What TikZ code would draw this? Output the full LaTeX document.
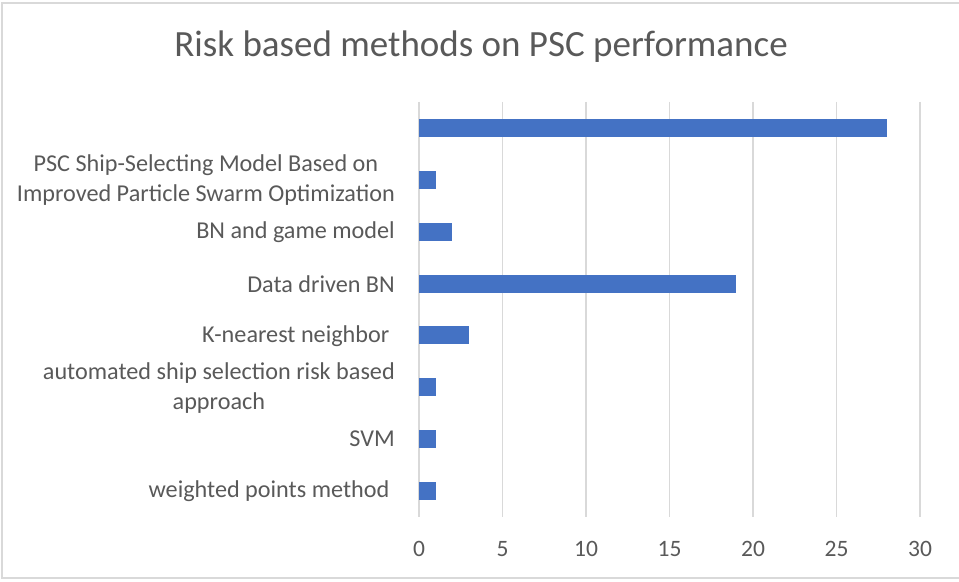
\documentclass[tikz,border=0pt]{standalone}
\usepackage{fontspec}
\setmainfont{Carlito}
\definecolor{barblue}{HTML}{4472C4}
\definecolor{txtgray}{HTML}{595959}
\definecolor{gridgray}{HTML}{D9D9D9}
\begin{document}
\begin{tikzpicture}[x=1bp,y=-1bp,
  frame/.style={draw=gridgray,line width=1.2bp},
  gridline/.style={draw=gridgray,line width=1.6bp},
  databar/.style={fill=barblue},
  catlabel/.style={anchor=east,align=center,text=txtgray,inner sep=0pt,
    font=\fontsize{24.2bp}{30bp}\selectfont},
  ticklabel/.style={text=txtgray,inner sep=0pt,font=\fontsize{23.5bp}{28bp}\selectfont},
  titlelabel/.style={text=txtgray,inner sep=0pt,font=\fontsize{37bp}{44bp}\selectfont}]
\useasboundingbox (0,0) rectangle (959,582);
% chart frame, running off the right edge
\draw[frame] (960,3) -- (2,3) -- (2,578) -- (960,578);
% title
\node[titlelabel] (title) at (481,47) {Risk based methods on PSC performance};
% vertical gridlines and axis values
\foreach \t [count=\k from 0] in {0,5,10,15,20,25,30} {
  \draw[gridline] ({419+\k*83.5},102) -- ({419+\k*83.5},517);
  \node[ticklabel] (tick\k) at ({419+\k*83.5},549) {\t};
}
% bars, one row every 51.86 units from the top
\foreach \v [count=\i from 0] in {28,1,2,19,3,1,1,1}
  \fill[databar] (419,{128+\i*51.86-9}) rectangle ({419+\v*16.7},{128+\i*51.86+9});
% category labels
\node[catlabel] (c2) at (395,180) {PSC Ship-Selecting Model Based on\\Improved Particle Swarm Optimization};
\node[catlabel] (c3) at (395,232) {BN and game model};
\node[catlabel] (c4) at (395,284) {Data driven BN};
\node[catlabel] (c5) at (395,336) {K-nearest neighbor\ };
\node[catlabel] (c6) at (395,388) {automated ship selection risk based\\approach};
\node[catlabel] (c7) at (395,439) {SVM};
\node[catlabel] (c8) at (395,491) {weighted points method\ };
\end{tikzpicture}
\end{document}
